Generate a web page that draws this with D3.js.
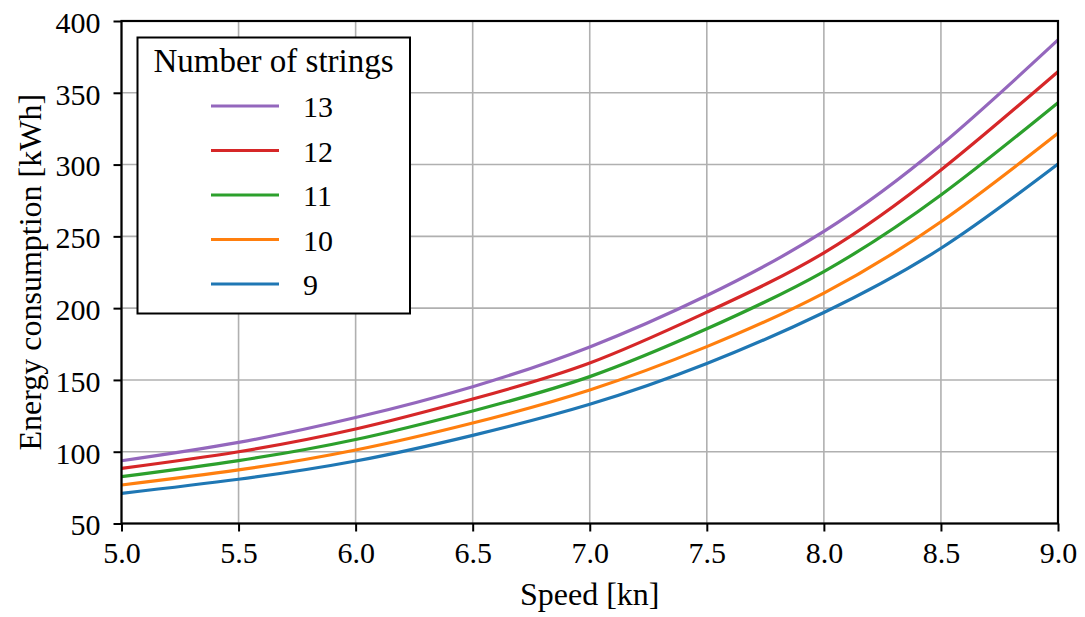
<!DOCTYPE html>
<html>
<head>
<meta charset="utf-8">
<script src="https://cdn.jsdelivr.net/npm/d3@7"></script>
</head>
<body style="margin:0; background:#fff">
<div id="chart"></div>
<script>
var WIDTH = 1085;
var HEIGHT = 617;
var FONT = "'Liberation Serif'";

// data
var speed = [5.0, 5.5, 6.0, 6.5, 7.0, 7.5, 8.0, 8.5, 9.0];
var strings9  = [71.0, 80.8, 93.5, 111.4, 133.0, 161.4, 197.0, 241.7, 300.4];
var strings10 = [76.8, 87.3, 101.2, 120.0, 143.0, 173.2, 210.5, 260.2, 321.8];
var strings11 = [82.6, 93.8, 108.5, 128.4, 152.3, 185.6, 225.5, 278.8, 343.1];
var strings12 = [88.4, 100.0, 115.8, 136.7, 161.8, 197.2, 238.5, 296.2, 364.7];
var strings13 = [93.7, 106.5, 123.8, 145.3, 173.0, 208.8, 253.4, 313.6, 386.8];

var seriesNames = ["13", "12", "11", "10", "9"];
var seriesValues = [strings13, strings12, strings11, strings10, strings9];
var seriesColors = ["#9467bd", "#d62728", "#2ca02c", "#ff7f0e", "#1f77b4"];

var xTicks = [5.0, 5.5, 6.0, 6.5, 7.0, 7.5, 8.0, 8.5, 9.0];
var yTicks = [50, 100, 150, 200, 250, 300, 350, 400];

var margin = {left: 121.5, right: 27, top: 21, bottom: 93.5};

var svg = d3.select("#chart")
			.append("svg")
			.attr("width", WIDTH)
			.attr("height", HEIGHT)
			.attr("font-family", FONT);

var x = d3.scaleLinear()
		  .domain([5, 9])
		  .range([margin.left, WIDTH - margin.right]);

var y = d3.scaleLinear()
		  .domain([50, 400])
		  .range([HEIGHT - margin.bottom, margin.top]);

// grid
svg.append("g")
   .selectAll("line")
   .data(xTicks)
   .join("line")
   .attr("x1", d => x(d)).attr("x2", d => x(d))
   .attr("y1", y(50)).attr("y2", y(400))
   .attr("stroke", "#b0b0b0")
   .attr("stroke-width", 1.6);

svg.append("g")
   .selectAll("line")
   .data(yTicks)
   .join("line")
   .attr("x1", x(5)).attr("x2", x(9))
   .attr("y1", d => y(d)).attr("y2", d => y(d))
   .attr("stroke", "#b0b0b0")
   .attr("stroke-width", 1.6);

// curves, lowest series first so 13 sits on top
var line = d3.line()
			 .x((d, i) => x(speed[i]))
			 .y(d => y(d))
			 .curve(d3.curveNatural);

svg.append("g")
   .selectAll("path")
   .data(d3.range(seriesValues.length).reverse())
   .join("path")
   .attr("d", i => line(seriesValues[i]))
   .attr("fill", "none")
   .attr("stroke", i => seriesColors[i])
   .attr("stroke-width", 3.2);

// axes
var xAxis = svg.append("g")
			   .attr("transform", "translate(0," + y(50) + ")")
			   .call(d3.axisBottom(x).tickValues(xTicks).tickFormat(d3.format(".1f")).tickSize(8).tickPadding(10));

var yAxis = svg.append("g")
			   .attr("transform", "translate(" + x(5) + ",0)")
			   .call(d3.axisLeft(y).tickValues(yTicks).tickSize(8).tickPadding(13));

[xAxis, yAxis].forEach(function(ax) {
	ax.attr("font-family", FONT).attr("font-size", 30);
	ax.select(".domain").remove();
	ax.selectAll(".tick line").attr("stroke", "#000").attr("stroke-width", 2);
	ax.selectAll(".tick text")
	  .attr("font-family", FONT)
	  .attr("font-size", 30)
	  .attr("fill", "#000");
});
xAxis.selectAll(".tick text").attr("y", 39.5).attr("dy", 0);
yAxis.selectAll(".tick text").attr("dy", "0.38em");

// frame
svg.append("rect")
   .attr("x", x(5)).attr("y", y(400))
   .attr("width", x(9) - x(5)).attr("height", y(50) - y(400))
   .attr("fill", "none")
   .attr("stroke", "#000")
   .attr("stroke-width", 2.2);

// axis labels
svg.append("text")
   .attr("x", (x(5) + x(9)) / 2)
   .attr("y", 605)
   .attr("text-anchor", "middle")
   .attr("font-family", FONT)
   .attr("font-size", 32)
   .text("Speed [kn]");

svg.append("text")
   .attr("transform", "translate(41," + (y(50) + y(400)) / 2 + ") rotate(-90)")
   .attr("text-anchor", "middle")
   .attr("font-family", FONT)
   .attr("font-size", 32)
   .text("Energy consumption [kWh]");

// legend
var legend = svg.append("g");

legend.append("rect")
	  .attr("x", 137.5).attr("y", 37.5)
	  .attr("width", 272.5).attr("height", 276)
	  .attr("fill", "#fff")
	  .attr("stroke", "#000")
	  .attr("stroke-width", 2);

legend.append("text")
	  .attr("x", 273.5)
	  .attr("y", 72)
	  .attr("text-anchor", "middle")
	  .attr("font-family", FONT)
	  .attr("font-size", 33)
	  .text("Number of strings");

var entry = legend.selectAll("g.entry")
				  .data(seriesNames)
				  .join("g")
				  .attr("class", "entry")
				  .attr("transform", (d, i) => "translate(0," + (106 + i * 44.5) + ")");

entry.append("line")
	 .attr("x1", 211).attr("x2", 279)
	 .attr("stroke", (d, i) => seriesColors[i])
	 .attr("stroke-width", 3.2);

entry.append("text")
	 .attr("x", 303)
	 .attr("y", 11)
	 .attr("font-family", FONT)
	 .attr("font-size", 30)
	 .text(d => d);
</script>
</body>
</html>
